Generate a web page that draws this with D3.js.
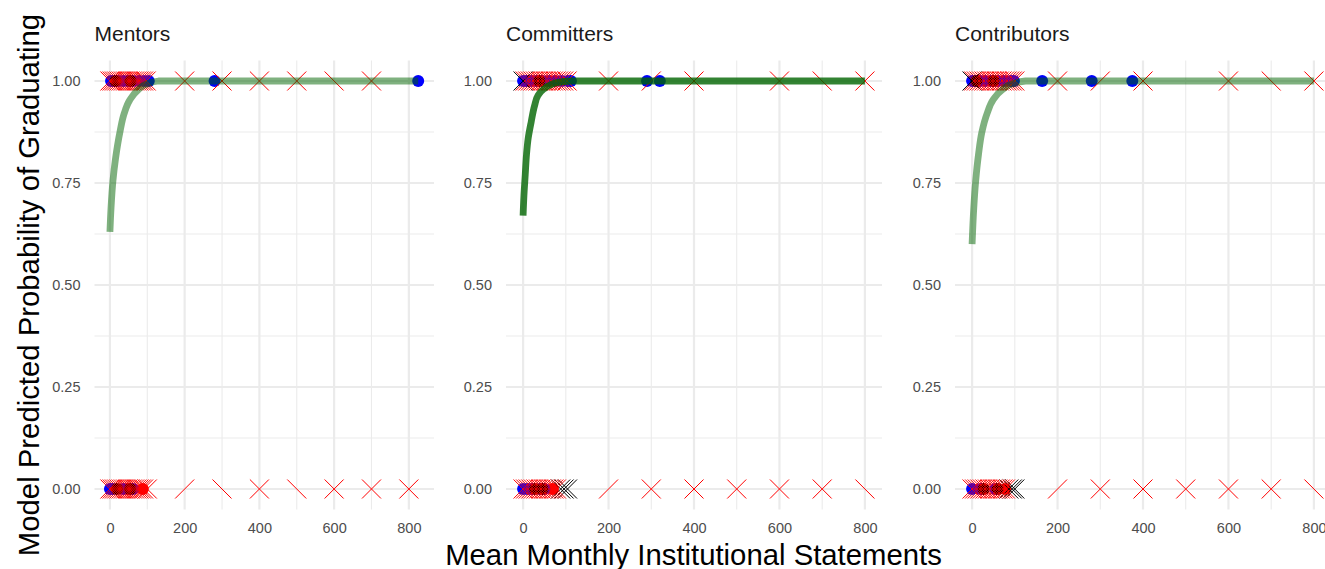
<!DOCTYPE html>
<html>
<head>
<meta charset="utf-8">
<script src="https://cdn.jsdelivr.net/npm/d3@7"></script>
<style>
  body { margin: 0; background: #fff; }
  text { font-family: "Liberation Sans", Arial, sans-serif; }
</style>
</head>
<body>
<div id="chart"></div>
<script>
//~~~~~~~~~~~~~~~~~~DATA
let panelNames = ['Mentors', 'Committers', 'Contributors'];

let xTicks = [0, 200, 400, 600, 800];
let xMinorTicks = [100, 300, 500, 700];
let yTicks = [0, 0.25, 0.5, 0.75, 1];
let yMinorTicks = [0.125, 0.375, 0.625, 0.875];

//fitted curve, one array per panel
let curveX = [
  [0, 3, 8, 15, 27, 38, 53, 75, 100, 130, 825],
  [0, 2, 5, 8, 12, 19, 27, 35, 48, 63, 85, 110, 800],
  [0, 4, 8, 15, 23, 35, 50, 70, 95, 125, 800]
];
let curveY = [
  [0.63, 0.69, 0.755, 0.81, 0.876, 0.92, 0.953, 0.978, 0.993, 1, 1],
  [0.67, 0.72, 0.77, 0.82, 0.86, 0.90, 0.94, 0.965, 0.98, 0.99, 0.997, 1, 1],
  [0.60, 0.69, 0.75, 0.82, 0.875, 0.92, 0.955, 0.978, 0.993, 1, 1]
];

//observed points at 1 (graduated) and 0
let blueTop = [
  [3, 12, 22, 35, 48, 62, 78, 92, 104, 280, 825],
  [0, 8, 18, 30, 45, 60, 75, 90, 105, 112, 290, 320],
  [0, 8, 18, 30, 45, 60, 75, 90, 98, 164, 280, 375]
];
let blackTop = [[15, 55], [38], [10, 50]];
let blueBottom = [[0, 8, 35, 62], [0, 10, 20, 40, 50], [0, 20, 54]];
let blackBottom = [[19, 54], [28, 45], [27, 60]];
let redDotBottom = [[45, 88], [70], [78]];

//cross markers: value and glyph ('x', '/', '\\')
let crossTop = [
  [[0,'x'],[6,'x'],[12,'x'],[18,'x'],[24,'x'],[30,'x'],[36,'x'],[42,'x'],[48,'x'],[54,'x'],[60,'x'],[66,'x'],[72,'x'],[78,'x'],[84,'x'],[90,'x'],[97,'x'],
   [200,'x'],[300,'x'],[400,'x'],[500,'x'],[600,'\\'],[700,'x']],
  [[5,'x'],[11,'x'],[17,'x'],[23,'x'],[29,'x'],[35,'x'],[41,'x'],[47,'x'],[53,'x'],[59,'x'],[65,'x'],[71,'x'],[77,'x'],[83,'x'],[89,'x'],[95,'x'],[103,'x'],
   [200,'x'],[300,'/'],[400,'x'],[600,'x'],[700,'\\'],[800,'x']],
  [[4,'x'],[10,'x'],[16,'x'],[22,'x'],[28,'x'],[34,'x'],[40,'x'],[46,'x'],[52,'x'],[58,'x'],[64,'x'],[70,'x'],[76,'x'],[82,'x'],[88,'x'],[94,'x'],[100,'x'],
   [200,'x'],[300,'/'],[400,'x'],[600,'x'],[700,'\\'],[800,'x']]
];
let crossBottom = [
  [[0,'x'],[6,'x'],[12,'x'],[18,'x'],[24,'x'],[30,'x'],[36,'x'],[42,'x'],[48,'x'],[54,'x'],[60,'x'],[66,'x'],[72,'x'],[78,'x'],[84,'x'],[90,'x'],[100,'x'],
   [200,'/'],[300,'\\'],[400,'x'],[500,'\\'],[600,'x'],[700,'x'],[800,'x']],
  [[0,'x'],[6,'x'],[12,'x'],[18,'x'],[24,'x'],[30,'x'],[36,'x'],[42,'x'],[48,'x'],[54,'x'],[60,'x'],[66,'x'],[72,'x'],[78,'x'],
   [200,'/'],[300,'x'],[400,'x'],[500,'x'],[600,'x'],[700,'x'],[800,'\\']],
  [[0,'x'],[6,'x'],[12,'x'],[18,'x'],[24,'x'],[30,'x'],[36,'x'],[42,'x'],[48,'x'],[54,'x'],[60,'x'],[66,'x'],[72,'x'],[78,'x'],
   [200,'/'],[300,'x'],[400,'x'],[500,'x'],[600,'x'],[700,'x'],[800,'\\']]
];
let blackCross = [[], [[0,'x'], [88,'x'], [96,'x'], [104,'x']], [[0,'x'], [86,'x'], [94,'x'], [100,'x']]];
let blackCrossY = [[], [1, 0, 0, 0], [1, 0, 0, 0]];

//~~~~~~~~~~~~~~~~~~LAYOUT
let width = 1325;
let height = 569;
let panelLeft = [94.5, 506, 955];
let panelRight = [434, 882, 1331];
let xDomains = [[-41.3, 867.3], [-40, 840], [-40, 840]];
let panelTop = 60.6;
let panelBottom = 509.4;
let lineColors = ['rgba(0,100,0,0.5)', 'rgba(0,100,0,0.8)', 'rgba(0,100,0,0.5)'];
let dotRadius = 6;
let crossHalf = 9.5;

let svg = d3.select('#chart')
  .append('svg')
  .attr('width', width)
  .attr('height', height);

let y = d3.scaleLinear().domain([-0.05, 1.05]).range([panelBottom, panelTop]);

//path for a cross glyph centred on 0,0
function glyph(type) {
  let h = crossHalf;
  if (type === '/') return 'M' + (-h) + ',' + h + 'L' + h + ',' + (-h);
  if (type === '\\') return 'M' + (-h) + ',' + (-h) + 'L' + h + ',' + h;
  return 'M' + (-h) + ',' + (-h) + 'L' + h + ',' + h + 'M' + (-h) + ',' + h + 'L' + h + ',' + (-h);
}

panelNames.forEach(function(name, p) {
  let x = d3.scaleLinear().domain(xDomains[p]).range([panelLeft[p], panelRight[p]]);
  let g = svg.append('g');

  //minor grid
  g.selectAll('.ymin').data(yMinorTicks).enter().append('line')
    .attr('x1', panelLeft[p]).attr('x2', panelRight[p])
    .attr('y1', y).attr('y2', y)
    .attr('stroke', '#ebebeb').attr('stroke-width', 1.1);
  g.selectAll('.xmin').data(xMinorTicks).enter().append('line')
    .attr('x1', x).attr('x2', x)
    .attr('y1', panelTop).attr('y2', panelBottom)
    .attr('stroke', '#ebebeb').attr('stroke-width', 1.1);

  //major grid
  g.selectAll('.ymaj').data(yTicks).enter().append('line')
    .attr('x1', panelLeft[p]).attr('x2', panelRight[p])
    .attr('y1', y).attr('y2', y)
    .attr('stroke', '#ebebeb').attr('stroke-width', 2.2);
  g.selectAll('.xmaj').data(xTicks).enter().append('line')
    .attr('x1', x).attr('x2', x)
    .attr('y1', panelTop).attr('y2', panelBottom)
    .attr('stroke', '#ebebeb').attr('stroke-width', 2.2);

  //axes, labels only
  let ax = g.append('g')
    .attr('transform', 'translate(0,' + panelBottom + ')')
    .call(d3.axisBottom(x).tickValues(xTicks).tickSize(0).tickPadding(13));
  let ay = g.append('g')
    .attr('transform', 'translate(' + panelLeft[p] + ',0)')
    .call(d3.axisLeft(y).tickValues(yTicks).tickFormat(d3.format('.2f')).tickSize(0).tickPadding(14));
  [ax, ay].forEach(function(a) {
    a.select('.domain').remove();
    a.selectAll('text')
      .attr('fill', '#4d4d4d')
      .style('font-size', '14.5px')
      .style('font-family', '"Liberation Sans", Arial, sans-serif');
  });

  //strip title
  g.append('text')
    .attr('x', panelLeft[p])
    .attr('y', 41)
    .attr('fill', '#1a1a1a')
    .style('font-size', '21px')
    .text(name);

  //points
  function dots(vals, yv, color) {
    g.append('g').selectAll('circle').data(vals).enter().append('circle')
      .attr('cx', function(d) { return x(d); })
      .attr('cy', y(yv))
      .attr('r', dotRadius)
      .attr('fill', color);
  }
  dots(redDotBottom[p], 0, '#ff0000');
  dots(blueTop[p], 1, '#0000ff');
  dots(blueBottom[p], 0, '#0000ff');
  dots(blackTop[p], 1, '#000000');
  dots(blackBottom[p], 0, '#000000');

  function crosses(vals, yf, color) {
    g.append('g').selectAll('path').data(vals).enter().append('path')
      .attr('transform', function(d, i) {
        return 'translate(' + x(d[0]) + ',' + y(yf(i)) + ')';
      })
      .attr('d', function(d) { return glyph(d[1]); })
      .attr('fill', 'none')
      .attr('stroke', color)
      .attr('stroke-width', 1);
  }
  crosses(blackCross[p], function(i) { return blackCrossY[p][i]; }, '#000000');
  crosses(crossTop[p], function() { return 1; }, '#ff0000');
  crosses(crossBottom[p], function() { return 0; }, '#ff0000');

  //fitted curve on top
  let line = d3.line()
    .x(function(d, i) { return x(curveX[p][i]); })
    .y(function(d) { return y(d); })
    .curve(d3.curveMonotoneY);
  g.append('path')
    .attr('d', line(curveY[p]))
    .attr('fill', 'none')
    .attr('stroke', lineColors[p])
    .attr('stroke-width', 6.8);
});

//axis titles
svg.append('text')
  .attr('x', 693.5)
  .attr('y', 565)
  .attr('text-anchor', 'middle')
  .attr('fill', '#000')
  .style('font-size', '29.3px')
  .text('Mean Monthly Institutional Statements');

svg.append('text')
  .attr('transform', 'translate(39,285) rotate(-90)')
  .attr('text-anchor', 'middle')
  .attr('fill', '#000')
  .style('font-size', '29.3px')
  .text('Model Predicted Probability of Graduating');
</script>
</body>
</html>
